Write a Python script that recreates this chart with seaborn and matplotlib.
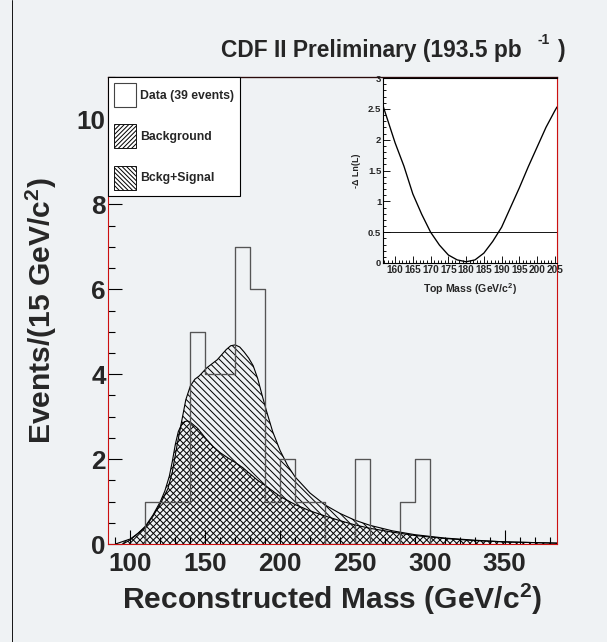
import numpy as np
import pandas as pd
import matplotlib
matplotlib.use("Agg")
import matplotlib.pyplot as plt
from matplotlib.patches import Patch
from matplotlib.lines import Line2D
from matplotlib.ticker import MultipleLocator
import seaborn as sns

# ---- data -------------------------------------------------------------
# observed events per bin (lower bin edge, GeV/c^2)
bin_low = [100, 110, 120, 130, 140, 150, 160, 170, 180, 190, 200,
           210, 220, 230, 240, 250, 260, 270, 280, 290, 300]
counts = [0, 1, 1, 1, 5, 4, 4, 7, 6, 1, 2,
          1, 1, 0, 0, 2, 0, 0, 1, 2, 0]
bin_width = 10

# background template
bkg_mass = [90, 100, 105, 110, 115, 120, 123, 126, 128, 130, 132, 134, 136,
            138, 140, 145, 150, 155, 160, 165, 170, 175, 180, 185, 190, 200,
            210, 220, 230, 240, 250, 260, 275, 290, 310, 330, 350, 385]
bkg_val = [0.0, 0.12, 0.25, 0.42, 0.68, 1.0, 1.25, 1.6, 1.95, 2.35, 2.65,
           2.8, 2.88, 2.9, 2.87, 2.72, 2.5, 2.3, 2.15, 2.03, 1.92, 1.8, 1.65,
           1.5, 1.38, 1.12, 0.93, 0.78, 0.66, 0.55, 0.45, 0.37, 0.28, 0.2,
           0.13, 0.08, 0.05, 0.02]

# background + top signal
sig_mass = [95, 100, 110, 115, 120, 125, 128, 131, 134, 137, 140, 143, 146,
            151, 158, 164, 167, 170, 173, 176, 179, 182, 185, 188, 191, 195,
            200, 205, 210, 220, 230, 240, 250, 260, 275, 290, 310, 330, 350,
            385]
sig_val = [0.0, 0.1, 0.4, 0.65, 0.95, 1.3, 1.7, 2.3, 2.85, 3.4, 3.72, 3.88,
           3.96, 4.15, 4.34, 4.58, 4.67, 4.69, 4.64, 4.52, 4.38, 4.2, 3.9,
           3.5, 3.12, 2.65, 2.2, 1.85, 1.58, 1.2, 0.92, 0.72, 0.56, 0.44,
           0.31, 0.22, 0.14, 0.09, 0.05, 0.02]

# likelihood scan versus top mass
scan_mass = [156.6, 160, 162.5, 165, 167.5, 170, 172.5, 175, 177.5, 180,
             182.5, 185, 187.5, 190, 192.5, 195, 197.5, 200, 202.5, 205, 205.6]
scan_nll = [2.55, 1.95, 1.57, 1.12, 0.79, 0.5, 0.29, 0.13, 0.05, 0.02,
            0.05, 0.16, 0.35, 0.58, 0.9, 1.22, 1.56, 1.88, 2.2, 2.47, 2.53]
one_sigma_level = 0.5

legend_labels = ["Data (39 events)", "Background", "Bckg+Signal"]

# ---- style ------------------------------------------------------------
sns.set_style("ticks")
plt.rcParams["font.family"] = ["Liberation Sans", "DejaVu Sans"]
plt.rcParams["font.weight"] = "bold"
plt.rcParams["axes.labelweight"] = "bold"
plt.rcParams["mathtext.fontset"] = "custom"
plt.rcParams["mathtext.rm"] = "Liberation Sans:bold"
plt.rcParams["mathtext.it"] = "Liberation Sans:bold"
plt.rcParams["mathtext.bf"] = "Liberation Sans:bold"
plt.rcParams["mathtext.default"] = "rm"
plt.rcParams["hatch.linewidth"] = 0.9

DPI = 80
W, H = 607, 642
bg = "#eff2f4"
red = "#cc1010"

fig = plt.figure(figsize=(W / DPI, H / DPI), dpi=DPI, facecolor=bg)

def fx(px):
    return px / W

def fy(py):
    return 1 - py / H

# ---- main histogram panel -----------------------------------------------
ax = fig.add_axes([fx(108), fy(544), fx(557) - fx(108), fy(77) - fy(544)])
ax.set_facecolor("none")

sig_df = pd.DataFrame({"mass": sig_mass, "events": sig_val})
bkg_df = pd.DataFrame({"mass": bkg_mass, "events": bkg_val})

ax.fill_between(sig_df["mass"], sig_df["events"], 0, facecolor="none",
                edgecolor="black", hatch="\\\\\\\\", linewidth=0, zorder=1)
ax.fill_between(bkg_df["mass"], bkg_df["events"], 0, facecolor="none",
                edgecolor="black", hatch="////", linewidth=0, zorder=1)
sns.lineplot(data=sig_df, x="mass", y="events", color="black", lw=1.0,
             ax=ax, zorder=2)
sns.lineplot(data=bkg_df, x="mass", y="events", color="black", lw=1.0,
             ax=ax, zorder=2)

edges = bin_low + [bin_low[-1] + bin_width]
centers = [b + bin_width / 2 for b in bin_low]
sns.histplot(x=centers, weights=counts, bins=edges, element="step",
             fill=False, color="#555555", linewidth=1.2, ax=ax, zorder=3)

ax.set_xlim(85, 385)
ax.set_ylim(0, 11)
ax.xaxis.set_major_locator(MultipleLocator(50))
ax.xaxis.set_minor_locator(MultipleLocator(10))
ax.yaxis.set_major_locator(MultipleLocator(2))
ax.yaxis.set_minor_locator(MultipleLocator(0.5))
ax.tick_params(which="both", direction="in", color="black", width=1)
ax.tick_params(which="major", length=13, labelsize=23.5)
ax.tick_params(which="minor", length=6)
ax.tick_params(axis="x", pad=7)
ax.tick_params(axis="y", pad=2)

for side in ["left", "bottom", "right"]:
    ax.spines[side].set_color(red)
    ax.spines[side].set_linewidth(1.0)
ax.spines["top"].set_color("#2a0a0a")
ax.spines["top"].set_linewidth(1.2)

ax.set_xlabel("Reconstructed Mass (GeV/c$^{2}$)", fontsize=27)
ax.set_ylabel("Events/(15 GeV/c$^{2}$)", fontsize=27)
ax.xaxis.set_label_coords(0.5, -0.082)
ax.yaxis.set_label_coords(-0.11, 0.5)

handles = [
    Patch(facecolor="white", edgecolor="#444444", linewidth=1.0),
    Patch(facecolor="white", edgecolor="black", hatch="//////", linewidth=0.8),
    Patch(facecolor="white", edgecolor="black", hatch="\\\\\\\\\\\\",
          linewidth=0.8),
]
leg = ax.legend(handles, legend_labels, loc="upper left",
                bbox_to_anchor=(0, 1), borderaxespad=0, fancybox=False,
                framealpha=1, edgecolor="black", facecolor="white",
                prop={"size": 11, "weight": "bold"}, handlelength=1.75,
                handleheight=2.6, handletextpad=0.35, borderpad=0.5,
                labelspacing=1.45)
leg.get_frame().set_linewidth(1.0)
leg.set_zorder(10)

# ---- likelihood inset -------------------------------------------------
axin = fig.add_axes([fx(383), fy(263), fx(557) - fx(383), fy(78) - fy(263)])
axin.set_facecolor("white")
scan_df = pd.DataFrame({"mtop": scan_mass, "nll": scan_nll})
sns.lineplot(data=scan_df, x="mtop", y="nll", color="black", lw=1.2, ax=axin)
axin.axhline(one_sigma_level, color="black", lw=0.8)
axin.set_xlim(156.6, 205.6)
axin.set_ylim(0, 3)
axin.xaxis.set_major_locator(MultipleLocator(5))
axin.xaxis.set_minor_locator(MultipleLocator(1))
axin.yaxis.set_minor_locator(MultipleLocator(0.1))
axin.set_yticks([0, 0.5, 1, 1.5, 2, 2.5, 3])
axin.set_yticklabels(["0", "0.5", "1", "1.5", "2", "2.5", "3"])
axin.tick_params(which="both", direction="in", color="black", width=0.8,
                 pad=1.5)
axin.tick_params(axis="x", labelsize=9)
axin.tick_params(axis="y", labelsize=8.5)
axin.tick_params(which="major", length=6)
axin.tick_params(which="minor", length=3)
for side in ["left", "bottom", "top"]:
    axin.spines[side].set_color("black")
    axin.spines[side].set_linewidth(1.0)
axin.spines["right"].set_color(red)
axin.spines["right"].set_linewidth(1.0)
axin.set_xlabel("Top Mass (GeV/c$^{2}$)", fontsize=9.5)
axin.set_ylabel("-\u0394 Ln(L)", fontsize=8)
axin.xaxis.set_label_coords(0.5, -0.1)
axin.yaxis.set_label_coords(-0.125, 0.5)

# ---- title ----------------------------------------------------------------
fig.text(fx(221), fy(50), "CDF II Preliminary (193.5 pb", ha="left",
         va="center", fontsize=20.5, fontweight="bold")
fig.text(fx(538), fy(40), "-1", ha="left", va="center", fontsize=12.5,
         fontweight="bold")
fig.text(fx(558), fy(50), ")", ha="left", va="center", fontsize=20.5,
         fontweight="bold")

# page margin rule on the left
fig.add_artist(Line2D([fx(12), fx(12)], [0, 1], color="black", lw=0.8,
                      transform=fig.transFigure))

fig.savefig("out.png", dpi=DPI, facecolor=bg)
